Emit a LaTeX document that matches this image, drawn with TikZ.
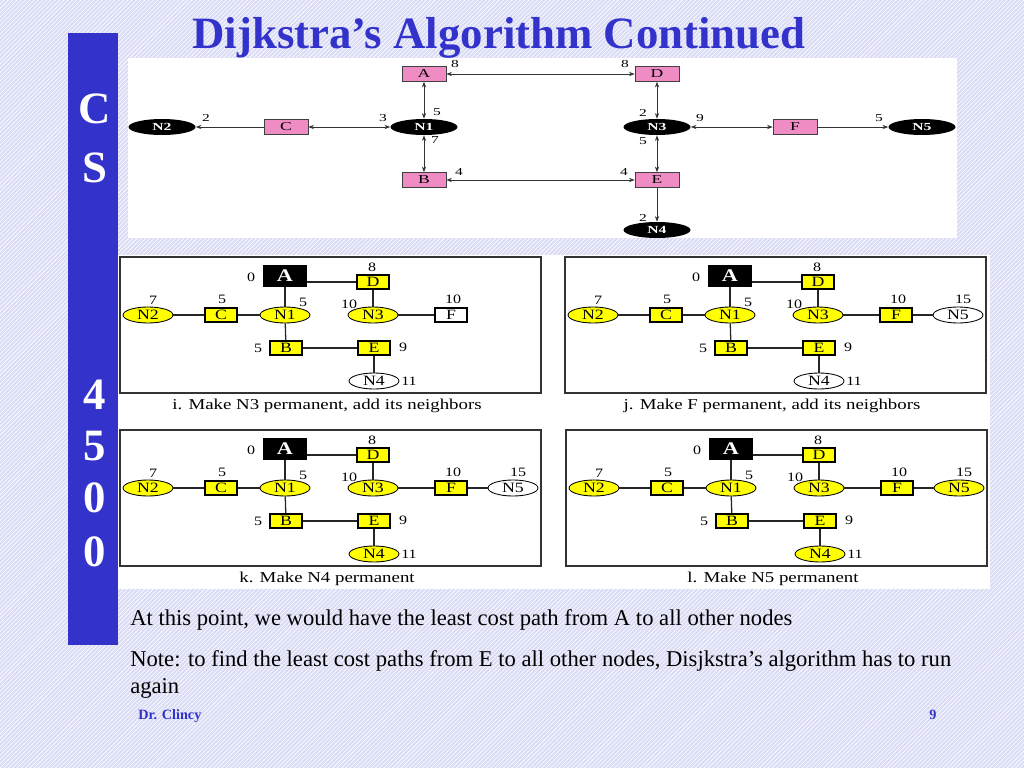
\documentclass[tikz,border=0pt]{standalone}
\usepackage{fontspec}
\setmainfont{Liberation Serif}
\newfontfamily\widefont[FakeStretch=1.45]{Liberation Serif}
\newfontfamily\panelfont[FakeStretch=1.25]{Liberation Serif}
\usetikzlibrary{positioning, arrows.meta, shapes.geometric, patterns}
\definecolor{slideblue}{RGB}{51,51,204}
\definecolor{slidebg}{RGB}{218,220,245}
\definecolor{nodepink}{RGB}{240,140,196}
\definecolor{nodeyellow}{RGB}{255,255,0}

\tikzset{
  pinkbox/.style={draw=black!75, fill=nodepink, inner sep=0pt,
    minimum width=44*0.703pt, minimum height=15*0.703pt,
    text height=5.6pt, text depth=0pt, font=\widefont\fontsize{8.5}{9}\selectfont},
  blackoval/.style={ellipse, fill=black, text=white, inner sep=0pt,
    minimum width=67*0.703pt, minimum height=16*0.703pt,
    text height=5pt, text depth=0pt, font=\widefont\bfseries\fontsize{7.6}{8}\selectfont},
  cost/.style={inner sep=0pt, font=\widefont\fontsize{7.5}{8}\selectfont},
  link/.style={{Stealth[length=4pt,width=3pt]}-{Stealth[length=4pt,width=3pt]}, black!80, semithick},
  oneway/.style={-{Stealth[length=4pt,width=3pt]}, black!80, semithick},
  darkbox/.style={fill=black, text=white, inner sep=0pt,
    minimum width=44*0.703pt, minimum height=22*0.703pt,
    text height=8.2pt, text depth=0pt, font=\panelfont\bfseries\fontsize{12.5}{13}\selectfont},
  ybox/.style={draw, line width=1.4pt, fill=nodeyellow, inner sep=0pt,
    minimum width=32*0.703pt, minimum height=14*0.703pt,
    text height=6.6pt, text depth=0pt, font=\panelfont\fontsize{10}{11}\selectfont},
  yoval/.style={ellipse, draw, line width=0.6pt, fill=nodeyellow, inner sep=0pt,
    minimum width=50*0.703pt, minimum height=16*0.703pt,
    text height=6.6pt, text depth=0pt, font=\panelfont\fontsize{10}{11}\selectfont},
  dist/.style={inner sep=0pt, font=\panelfont\fontsize{9}{10}\selectfont},
  edge/.style={line width=0.9pt, black!85},
  barletter/.style={text=white, font=\bfseries\fontsize{31.5}{32}\selectfont}
}

\begin{document}
\begin{tikzpicture}[x=0.703pt, y=-0.703pt]
  \useasboundingbox (0,0) rectangle (1024,768);
  % fond hachure
  \fill[slidebg] (0,0) rectangle (1024,768);
  \fill[pattern=north east lines, pattern color=white] (0,0) rectangle (1024,768);

  % barre laterale
  \fill[slideblue] (68,33) rectangle (118,645);
  \node[barletter] (barC) at (95,109) {C};
  \node[barletter] (barS) at (95,168) {S};
  \node[barletter] (bar4) at (95,395) {4};
  \node[barletter] (bar5) at (95,446) {5};
  \node[barletter] (bar0) at (95,498) {0};
  \node[barletter] (bar00) at (95,552) {0};

  % titre
  \node[anchor=base, inner sep=0pt, text=slideblue, font=\bfseries\fontsize{31.5}{32}\selectfont]
    (title) at (499,48) {Dijkstra’s Algorithm Continued};

  % reseau du haut
  \fill[white] (128,58) rectangle (957,238);
  \node[pinkbox] (A) at (424,74) {A};
  \node[pinkbox] (D) at (657,74) {D};
  \node[pinkbox] (C) at (286,127) {C};
  \node[pinkbox] (F) at (795,127) {F};
  \node[pinkbox] (B) at (424,180) {B};
  \node[pinkbox] (E) at (657,180) {E};
  \node[blackoval] (N2) at (162,127) {N2};
  \node[blackoval] (N1) at (424,127) {N1};
  \node[blackoval] (N3) at (657,127) {N3};
  \node[blackoval] (N5) at (922,127) {N5};
  \node[blackoval] (N4) at (657,230) {N4};
  \draw[link] (A) -- (N1);
  \draw[link] (N1) -- (B);
  \draw[link] (A) -- (D);
  \draw[link] (B) -- (E);
  \draw[link] (C) -- (N1);
  \draw[oneway] (C) -- (N2);
  \draw[link] (D) -- (N3);
  \draw[link] (N3) -- (E);
  \draw[link] (N3) -- (F);
  \draw[oneway] (F) -- (N5);
  \draw[oneway] (E) -- (N4);
  % couts
  \node[cost] at (455,64) {8};
  \node[cost] at (625,64) {8};
  \node[cost] at (437,112) {5};
  \node[cost] at (435,140) {7};
  \node[cost] at (206,118) {2};
  \node[cost] at (383,118) {3};
  \node[cost] at (459,172) {4};
  \node[cost] at (624,172) {4};
  \node[cost] at (643,113) {2};
  \node[cost] at (643,141) {5};
  \node[cost] at (700,118) {9};
  \node[cost] at (879,118) {5};
  \node[cost] at (643,218) {2};

  % les quatre etapes
  \fill[white] (118,255) rectangle (990,589);
  \foreach \p/\ox/\oy/\fF/\fNf/\fNv/\five/\cap in {
      i/120/257/white/white/white/0/{i. Make N3 permanent, add its neighbors},
      j/565/257/nodeyellow/white/white/1/{j. Make F permanent, add its neighbors},
      k/120/430/nodeyellow/nodeyellow/white/1/{k. Make N4 permanent},
      l/566/430/nodeyellow/nodeyellow/nodeyellow/1/{l. Make N5 permanent}} {
    \begin{scope}[shift={(\ox,\oy)}]
      \draw[line width=0.8pt, black!80] (0,0) rectangle (421,136);
      \node[darkbox] (\p-A) at (165,19) {A};
      \node[ybox] (\p-D) at (253,25) {D};
      \node[yoval] (\p-N1) at (165,58) {N1};
      \node[ybox] (\p-C) at (101,58) {C};
      \node[yoval] (\p-N2) at (28,58) {N2};
      \node[yoval] (\p-N3) at (253,58) {N3};
      \node[ybox, fill=\fF] (\p-F) at (331,58) {F};
      \node[ybox] (\p-B) at (166,91) {B};
      \node[ybox] (\p-E) at (254,91) {E};
      \node[yoval, fill=\fNf] (\p-N4) at (254,124) {N4};
      \draw[edge] (\p-A) -- (\p-N1);
      \draw[edge] (\p-N1) -- (\p-C);
      \draw[edge] (\p-C) -- (\p-N2);
      \draw[edge] (\p-N1) -- (\p-B);
      \draw[edge] (\p-B) -- (\p-E);
      \draw[edge] (\p-A.east |- \p-D.west) -- (\p-D.west);
      \draw[edge] (\p-D) -- (\p-N3);
      \draw[edge] (\p-N3) -- (\p-F);
      \draw[edge] (\p-E) -- (\p-N4);
      \node[dist] at (131,20) {0};
      \node[dist] at (252,10) {8};
      \node[dist] at (183,45) {5};
      \node[dist] at (102,42) {5};
      \node[dist] at (33,43) {7};
      \node[dist] at (229,47) {10};
      \node[dist] at (333,42) {10};
      \node[dist] at (138,91) {5};
      \node[dist] at (283,90) {9};
      \node[dist] at (289,124) {11};
      \ifnum\five=1
        \node[yoval, fill=\fNv] (\p-N5) at (393,58) {N5};
        \draw[edge] (\p-F) -- (\p-N5);
        \node[dist] at (398,42) {15};
      \fi
      \node[inner sep=0pt, font=\panelfont\fontsize{10.6}{11}\selectfont] (\p-cap) at (207,149) {\cap};
    \end{scope}
  }

  % texte du bas
  \node[anchor=base west, inner sep=0pt, font=\fontsize{15.9}{16}\selectfont] (line1) at (130,625)
    {At this point, we would have the least cost path from A to all other nodes};
  \node[anchor=base west, inner sep=0pt, font=\fontsize{15.9}{16}\selectfont] (line2) at (130,666)
    {Note: to find the least cost paths from E to all other nodes, Disjkstra’s algorithm has to run};
  \node[anchor=base west, inner sep=0pt, font=\fontsize{15.9}{16}\selectfont] (line3) at (130,693)
    {again};
  \node[anchor=base west, inner sep=0pt, text=slideblue, font=\bfseries\fontsize{10}{11}\selectfont]
    (author) at (138,719) {Dr. Clincy};
  \node[anchor=base, inner sep=0pt, text=slideblue, font=\bfseries\fontsize{10}{11}\selectfont]
    (pagenum) at (933,719) {9};
\end{tikzpicture}
\end{document}
